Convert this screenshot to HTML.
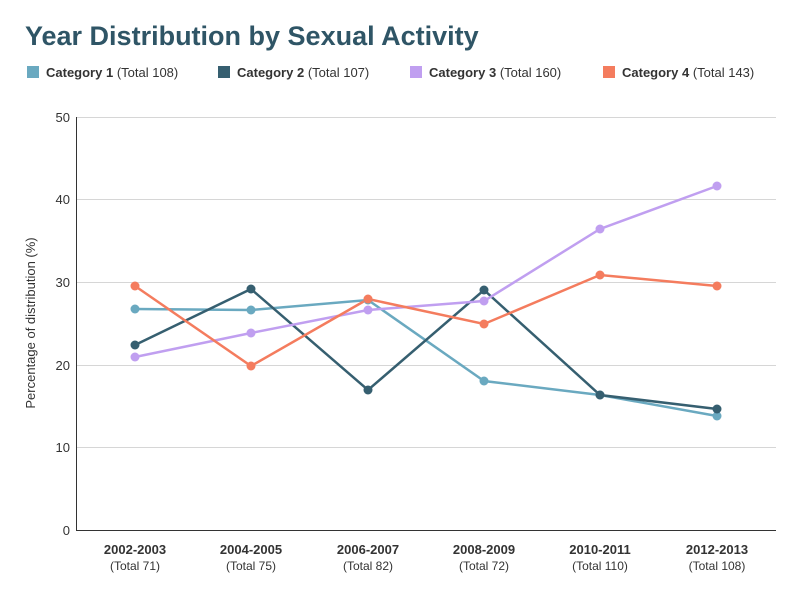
<!DOCTYPE html>
<html><head><meta charset="utf-8"><style>
body{margin:0;background:#fff;width:800px;height:600px;overflow:hidden;font-family:"Liberation Sans",sans-serif;}
</style></head><body>
<svg width="800" height="600" xmlns="http://www.w3.org/2000/svg" font-family="Liberation Sans, sans-serif">
<text x="25" y="45" font-size="27" font-weight="bold" fill="#2f5566">Year Distribution by Sexual Activity</text>
<g font-size="13" fill="#333">
<rect x="27" y="66" width="12" height="12" fill="#6aa9c0"/>
<text x="46" y="77"><tspan font-weight="bold">Category 1</tspan> (Total 108)</text>
<rect x="218" y="66" width="12" height="12" fill="#365f70"/>
<text x="237" y="77"><tspan font-weight="bold">Category 2</tspan> (Total 107)</text>
<rect x="410" y="66" width="12" height="12" fill="#c09ff0"/>
<text x="429" y="77"><tspan font-weight="bold">Category 3</tspan> (Total 160)</text>
<rect x="603" y="66" width="12" height="12" fill="#f47c5e"/>
<text x="622" y="77"><tspan font-weight="bold">Category 4</tspan> (Total 143)</text>
</g>
<g stroke="#d6d6d6" stroke-width="1">
<line x1="76" x2="776" y1="117.5" y2="117.5"/>
<line x1="76" x2="776" y1="199.5" y2="199.5"/>
<line x1="76" x2="776" y1="282.5" y2="282.5"/>
<line x1="76" x2="776" y1="365.5" y2="365.5"/>
<line x1="76" x2="776" y1="447.5" y2="447.5"/>
</g>
<line x1="76" x2="776" y1="530.5" y2="530.5" stroke="#333"/>
<line x1="76.5" x2="76.5" y1="117" y2="530" stroke="#333"/>
<g font-size="13" fill="#333" text-anchor="end">
<text x="70" y="122">50</text><text x="70" y="204">40</text><text x="70" y="287">30</text>
<text x="70" y="370">20</text><text x="70" y="452">10</text><text x="70" y="535">0</text>
</g>
<text transform="translate(35,323) rotate(-90)" font-size="13" fill="#333" text-anchor="middle">Percentage of distribution (%)</text>
<g font-size="13" fill="#333" text-anchor="middle">
<text x="135" y="554" font-weight="bold">2002-2003</text><text x="135" y="570" font-size="12">(Total 71)</text>
<text x="251" y="554" font-weight="bold">2004-2005</text><text x="251" y="570" font-size="12">(Total 75)</text>
<text x="368" y="554" font-weight="bold">2006-2007</text><text x="368" y="570" font-size="12">(Total 82)</text>
<text x="484" y="554" font-weight="bold">2008-2009</text><text x="484" y="570" font-size="12">(Total 72)</text>
<text x="600" y="554" font-weight="bold">2010-2011</text><text x="600" y="570" font-size="12">(Total 110)</text>
<text x="717" y="554" font-weight="bold">2012-2013</text><text x="717" y="570" font-size="12">(Total 108)</text>
</g>
<g fill="none" stroke-width="2.5">
<polyline stroke="#6aa9c0" points="135,309 251,310 368,300 484,381 600,395 717,416"/>
<polyline stroke="#365f70" points="135,345 251,289 368,390 484,290 600,395 717,409"/>
<polyline stroke="#c09ff0" points="135,357 251,333 368,310 484,301 600,229 717,186"/>
<polyline stroke="#f47c5e" points="135,286 251,366 368,299 484,324 600,275 717,286"/>
</g>
<g fill="#6aa9c0"><circle cx="135" cy="309" r="4.5"/><circle cx="251" cy="310" r="4.5"/><circle cx="368" cy="300" r="4.5"/><circle cx="484" cy="381" r="4.5"/><circle cx="600" cy="395" r="4.5"/><circle cx="717" cy="416" r="4.5"/></g>
<g fill="#365f70"><circle cx="135" cy="345" r="4.5"/><circle cx="251" cy="289" r="4.5"/><circle cx="368" cy="390" r="4.5"/><circle cx="484" cy="290" r="4.5"/><circle cx="600" cy="395" r="4.5"/><circle cx="717" cy="409" r="4.5"/></g>
<g fill="#c09ff0"><circle cx="135" cy="357" r="4.5"/><circle cx="251" cy="333" r="4.5"/><circle cx="368" cy="310" r="4.5"/><circle cx="484" cy="301" r="4.5"/><circle cx="600" cy="229" r="4.5"/><circle cx="717" cy="186" r="4.5"/></g>
<g fill="#f47c5e"><circle cx="135" cy="286" r="4.5"/><circle cx="251" cy="366" r="4.5"/><circle cx="368" cy="299" r="4.5"/><circle cx="484" cy="324" r="4.5"/><circle cx="600" cy="275" r="4.5"/><circle cx="717" cy="286" r="4.5"/></g>
</svg>
</body></html>
